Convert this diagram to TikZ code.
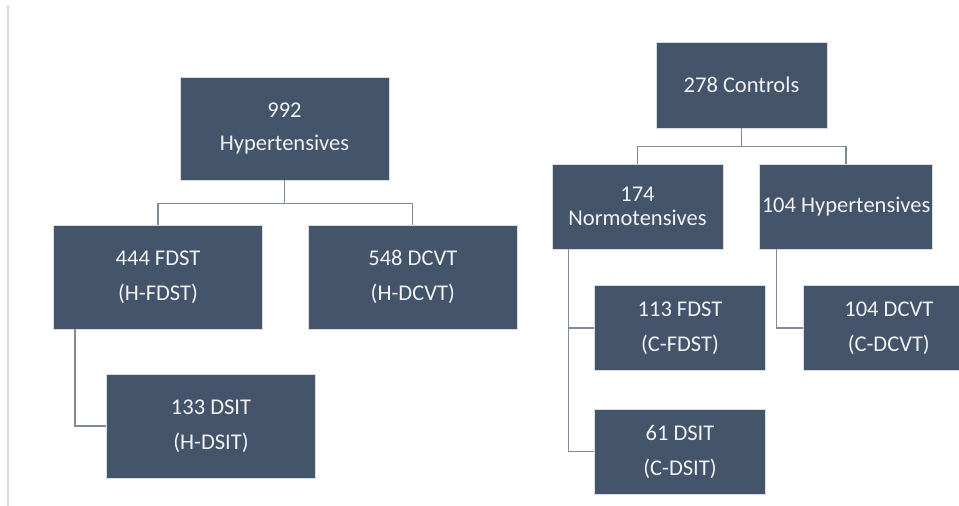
\documentclass[tikz,border=0pt]{standalone}
\usepackage{fontspec}
\setmainfont{Carlito}
\usepackage{tikz}
\usetikzlibrary{positioning}
\definecolor{grpFill}{HTML}{44546A}
\definecolor{grpEdge}{HTML}{D6DCE4}
\definecolor{grpLine}{HTML}{7F8B9B}
\definecolor{grpText}{HTML}{F2F2F2}
\definecolor{pageRule}{HTML}{D9D9D9}
\tikzset{
  gbox/.style={rectangle,minimum width=209pt,minimum height=104pt,
    inner sep=2pt,align=center,draw=grpEdge,line width=0.8pt,
    fill=grpFill,text=grpText,font=\fontsize{22.5}{24}\selectfont},
  cbox/.style={gbox,minimum width=171pt,minimum height=85pt},
  cline/.style={draw=grpLine,line width=1.3pt},
}
\begin{document}
\begin{tikzpicture}[x=1pt,y=1pt,node distance=45pt]
  \useasboundingbox (0,0) rectangle (959,506);
  \draw[pageRule,line width=1.6pt] (8,0) -- (8,501);

  % hypertensive arm
  \node[gbox,minimum height=103pt] (hyp) at (284.5,377.5) {992\\[9pt]Hypertensives};
  \node[gbox] (hfdst) at (158,229) {444 FDST\\[11pt](H-FDST)};
  \node[gbox,right=45pt of hfdst] (hdcvt) {548 DCVT\\[11pt](H-DCVT)};
  \node[gbox] (hdsit) at (211,80) {133 DSIT\\[11pt](H-DSIT)};

  % control arm
  \node[cbox,minimum height=86pt] (ctrl) at (741.5,421) {278 Controls};
  \node[cbox] (norm) at (637.5,299.5) {174\\Normotensives};
  \node[cbox,right=36pt of norm] (chyp) {104 Hypertensives};
  \node[cbox] (cfdst) at (680,178) {113 FDST\\[11pt](C-FDST)};
  \node[cbox,right=37pt of cfdst] (cdcvt) {104 DCVT\\[11pt](C-DCVT)};
  \node[cbox,below=38pt of cfdst] (cdsit) {61 DSIT\\[11pt](C-DSIT)};

  \draw[cline] (hyp.south) -- ++(0,-23) coordinate (hj);
  \draw[cline] (hj) -| (hfdst.north);
  \draw[cline] (hj) -| (hdcvt.north);
  \draw[cline] ([xshift=22pt]hfdst.south west) |- (hdsit.west);

  \draw[cline] (ctrl.south) -- ++(0,-18) coordinate (cj);
  \draw[cline] (cj) -| (norm.north);
  \draw[cline] (cj) -| (chyp.north);
  \draw[cline] ([xshift=17pt]norm.south west) |- (cfdst.west);
  \draw[cline] ([xshift=17pt]norm.south west) |- (cdsit.west);
  \draw[cline] ([xshift=17pt]chyp.south west) |- (cdcvt.west);
\end{tikzpicture}
\end{document}
